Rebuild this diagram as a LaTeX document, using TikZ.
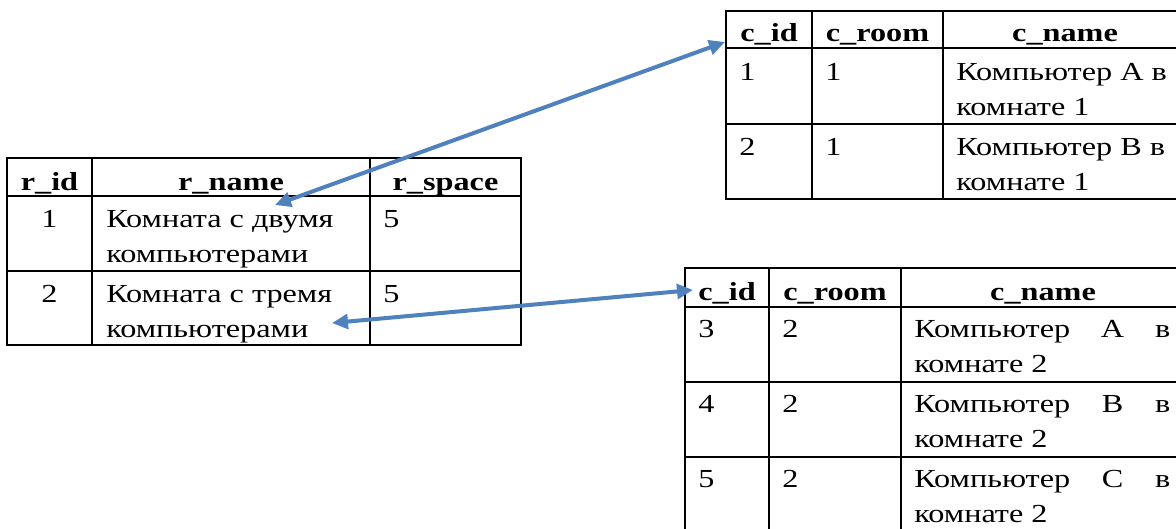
\documentclass[tikz,border=0pt]{standalone}
\usepackage{fontspec}
\setmainfont{Liberation Serif}[FakeStretch = 1.24]
\usetikzlibrary{arrows.meta}

\definecolor{linkblue}{RGB}{79,129,189}
\newcommand{\tabfont}{\fontsize{19.5}{26.25}\selectfont}

\tikzset{
  grid/.style = {line width = 1.5pt},
  head/.style = {anchor = base, inner sep = 0pt, font = \tabfont\bfseries},
  val/.style = {anchor = base west, inner sep = 0pt, align = left},
  num/.style = {anchor = base, inner sep = 0pt},
  link/.style = {linkblue, line width = 3pt, {Triangle[length = 12pt, width = 11pt]}-{Triangle[length = 12pt, width = 11pt]}}
}

\begin{document}
\begin{tikzpicture}[x = 0.75pt, y = -0.75pt, font = \tabfont]
\useasboundingbox (0,0) rectangle (1176,528);
\clip (0,0) rectangle (1176,528);

% rooms
\draw[grid] (7,158) rectangle (521,345);
\foreach \x in {92,370} \draw[grid] (\x,158) -- (\x,345);
\foreach \y in {196,271} \draw[grid] (7,\y) -- (521,\y);
\node[head] (rid) at (49.5,190) {r\_id};
\node[head] (rname) at (231,190) {r\_name};
\node[head] (rspace) at (445.5,190) {r\_space};
\node[num] (rid1) at (49.5,227) {1};
\node[val] (rname1) at (106,262) {Комната с двумя\\компьютерами};
\node[val] (rspace1) at (383,227) {5};
\node[num] (rid2) at (49.5,302) {2};
\node[val] (rname2) at (106,337) {Комната с тремя\\компьютерами};
\node[val] (rspace2) at (383,302) {5};

% computers, room 1
\draw[grid] (726,11) rectangle (1187,199);
\foreach \x in {812,943} \draw[grid] (\x,11) -- (\x,199);
\foreach \y in {48,124} \draw[grid] (726,\y) -- (1187,\y);
\node[head] (cid) at (769,41) {c\_id};
\node[head] (croom) at (877.5,41) {c\_room};
\node[head] (cname) at (1065,41) {c\_name};
\node[val] (cid1) at (739,80) {1};
\node[val] (croom1) at (825,80) {1};
\node[val] (cname1) at (956,115) {Компьютер A в\\комнате 1};
\node[val] (cid2) at (739,155) {2};
\node[val] (croom2) at (825,155) {1};
\node[val] (cname2) at (956,190) {Компьютер B в\\комнате 1};

% computers, room 2
\draw[grid] (685,268) rectangle (1185,532);
\foreach \x in {769,901} \draw[grid] (\x,268) -- (\x,532);
\foreach \y in {307,382,457} \draw[grid] (685,\y) -- (1185,\y);
\node[head] (kid) at (727,300) {c\_id};
\node[head] (kroom) at (835,300) {c\_room};
\node[head] (kname) at (1043,300) {c\_name};
\foreach \n/\l [count = \i] in {3/A,4/B,5/C} {
  \node[val] (kid\i) at (698,{337+75*(\i-1)}) {\n};
  \node[val] (kroom\i) at (782,{337+75*(\i-1)}) {2};
  \node[val] (kname\i) at (914,{372+75*(\i-1)}) {\makebox[192pt][s]{Компьютер\hfill \l\hfill в}\\комнате 2};
}

% links
\coordinate (two) at (275,205);
\coordinate (three) at (332,323);
\coordinate (first) at (725,42);
\coordinate (second) at (693,290);
\draw[link] (two) -- (first);
\draw[link] (three) -- (second);
\end{tikzpicture}
\end{document}
